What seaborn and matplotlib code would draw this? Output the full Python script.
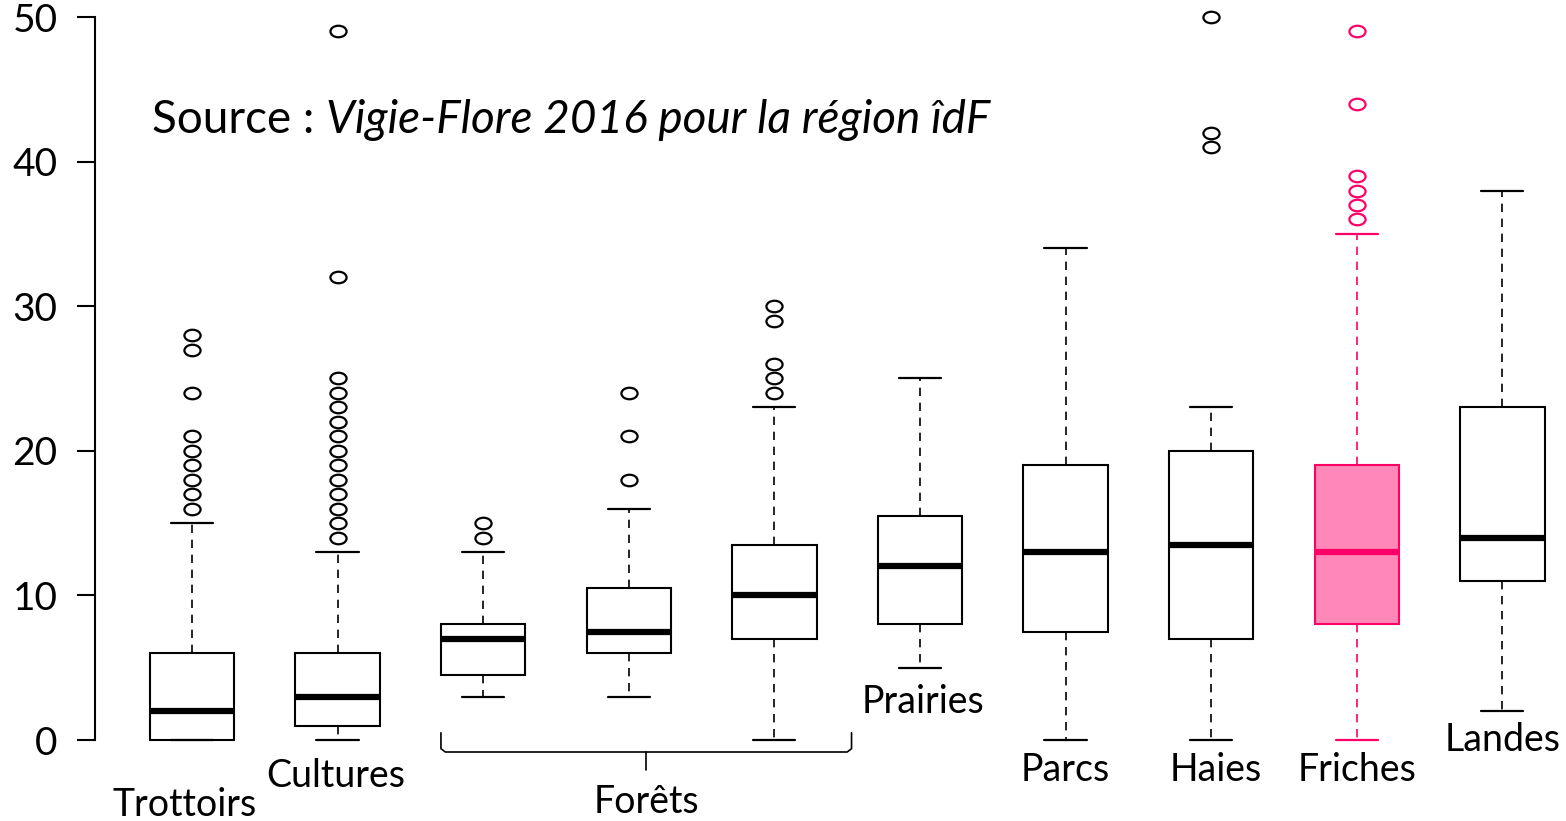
import numpy as np
import pandas as pd
import matplotlib.pyplot as plt
import seaborn as sns
from matplotlib.markers import MarkerStyle
from matplotlib.transforms import Affine2D

# Summary values (number of species per plot)
habitats = ['Trottoirs', 'Cultures', 'Forêts 1', 'Forêts 2', 'Forêts 3',
            'Prairies', 'Parcs', 'Haies', 'Friches', 'Landes']
low = [0, 0, 3, 3, 0, 5, 0, 0, 0, 2]
q1 = [0, 1, 4.5, 6, 7, 8, 7.5, 7, 8, 11]
median = [2, 3, 7, 7.5, 10, 12, 13, 13.5, 13, 14]
q3 = [6, 6, 8, 10.5, 13.5, 15.5, 19, 20, 19, 23]
high = [15, 13, 13, 16, 23, 25, 34, 23, 35, 38]
outliers = [
    [16, 17, 18, 19, 20, 21, 24, 27, 28],
    [14, 15, 16, 17, 18, 19, 20, 21, 22, 23, 24, 25, 32, 49],
    [14, 15],
    [18, 21, 24],
    [24, 25, 26, 29, 30],
    [],
    [],
    [41, 42, 50],
    [36, 37, 38, 39, 44, 49],
    [],
]

# label text and where it sits (x offset from the box, y in data units)
labels = ['Trottoirs', 'Cultures', None, None, None,
          'Prairies', 'Parcs', 'Haies', 'Friches', 'Landes']
label_y = [-4.5, -2.5, None, None, None, 2.6, -2.1, -2.1, -2.1, 0.0]
label_dx = [-0.05, -0.01, None, None, None, 0.02, 0.0, 0.03, 0.0, 0.0]

pink_edge = '#FF0066'
pink_fill = '#FF88B8'

# Rebuild a table whose quartiles / whiskers match the summary values
k = 100
rows = []
for i, h in enumerate(habitats):
    vals = [low[i]] + [q1[i]] * k + [median[i]] * k + [q3[i]] * k + [high[i]] + outliers[i]
    rows += [(h, v) for v in vals]
df = pd.DataFrame(rows, columns=['habitat', 'value'])

sns.set_style('white')
plt.rcParams['font.family'] = ['Lato', 'DejaVu Sans']
plt.rcParams['text.color'] = 'black'

fig = plt.figure(figsize=(15.66, 8.21), dpi=100)
ax = fig.add_axes([95 / 1566, 81 / 821, 1 - 95 / 1566, 723 / 821])

palette = {h: ('white' if h != 'Friches' else pink_fill) for h in habitats}
sns.boxplot(data=df, x='habitat', y='value', order=habitats, hue='habitat',
            palette=palette, legend=False, saturation=1, width=0.58,
            linecolor='black', linewidth=1.5, ax=ax)

ellipse = MarkerStyle('o', fillstyle='none', transform=Affine2D().scale(1.4, 1.0))
for i, c in enumerate(ax.containers):
    col = pink_edge if habitats[i] == 'Friches' else 'black'
    for b in c.boxes:
        b.set_edgecolor(col)
        b.set_linewidth(1.5)
        b.set_clip_on(False)
    for m in c.medians:
        m.set_color(col)
        m.set_linewidth(4.5)
        m.set_solid_capstyle('butt')
        m.set_clip_on(False)
    for w in c.whiskers:
        w.set_color(col)
        w.set_linewidth(1.2)
        w.set_linestyle((0, (5, 4)))
        w.set_clip_on(False)
    for cp in c.caps:
        cp.set_color(col)
        cp.set_linewidth(1.6)
        cp.set_clip_on(False)
    for f in c.fliers:
        f.set_marker(ellipse)
        f.set_markersize(8.3)
        f.set_markeredgecolor(col)
        f.set_markerfacecolor('none')
        f.set_markeredgewidth(1.6)
        f.set_clip_on(False)

ax.set_xlim(-0.666, 9.437)
ax.set_ylim(0, 50)
ax.set_yticks([0, 10, 20, 30, 40, 50])
ax.tick_params(axis='y', length=13, width=1.5, pad=14, labelsize=28,
               colors='black', labelcolor='black', left=True)
ax.set_xticks([])
ax.set_xlabel('')
ax.set_ylabel('')
for s in ['top', 'right', 'bottom']:
    ax.spines[s].set_visible(False)
ax.spines['left'].set_linewidth(1.5)
ax.spines['left'].set_color('black')

# habitat names under the boxes
for i, lab in enumerate(labels):
    if lab is None:
        continue
    ax.text(i + label_dx[i], label_y[i], lab, ha='center', va='center',
            fontsize=27, color='black', clip_on=False)

# brace grouping the three forest boxes
left, right = 2 - 0.29, 4 + 0.53
mid = (left + right) / 2
ax.plot([left, left, left + 0.03, right - 0.03, right, right],
        [0.5, -0.6, -0.83, -0.83, -0.6, 0.5], color='black', lw=1.2, clip_on=False)
ax.plot([mid, mid], [-0.83, -2.1], color='black', lw=1.2, clip_on=False)
ax.text(mid, -4.3, 'Forêts', ha='center', va='center', fontsize=27,
        color='black', clip_on=False)

# source note
src = ax.text(-0.275, 42.9, 'Source : ', fontsize=33, color='black',
              ha='left', va='center')
ax.annotate('Vigie-Flore 2016 pour la région îdF', xy=(1, 0), xycoords=src,
            fontsize=33, style='italic', color='black', ha='left', va='bottom')

fig.savefig('out.png', dpi=100)
